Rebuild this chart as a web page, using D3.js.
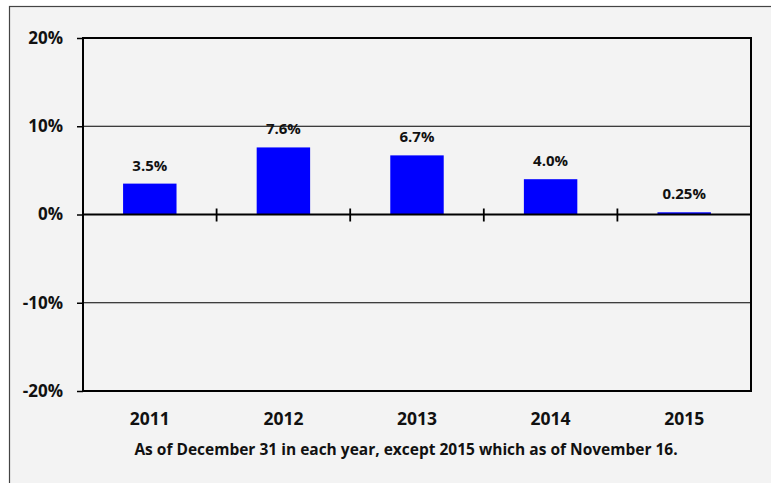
<!DOCTYPE html>
<html>
<head>
<meta charset="utf-8">
<script src="https://cdn.jsdelivr.net/npm/d3@7"></script>
<style>
  html, body { margin: 0; padding: 0; background: #ffffff; }
  svg { display: block; }
  text { font-family: "Open Sans", Lato, sans-serif; font-weight: bold; fill: #111; }
</style>
</head>
<body>
<svg id="chart" width="771" height="483"></svg>
<script>
// Annual returns by year (percent)
const years = ["2011", "2012", "2013", "2014", "2015"];
const returns = [3.5, 7.6, 6.7, 4.0, 0.25];
const valueLabels = ["3.5%", "7.6%", "6.7%", "4.0%", "0.25%"];
const yTicks = [-20, -10, 0, 10, 20];
const caption = "As of December 31 in each year, except 2015 which as of November 16.";

const svg = d3.select("#chart");
const W = 771, H = 483;
const m = { left: 83, right: 20, top: 38, bottom: 92 };
const plotW = W - m.left - m.right;   // 668
const plotH = H - m.top - m.bottom;   // 353
const FONT = "'Open Sans', Lato, sans-serif";

// chart area background with top/left frame
svg.append("rect").attr("x", 9.5).attr("y", 6.5).attr("width", W).attr("height", H)
  .attr("fill", "#f3f3f3").attr("stroke", "#444").attr("stroke-width", 1.2);

const x = d3.scaleBand().domain(years).range([m.left, m.left + plotW]).paddingInner(0.6).paddingOuter(0.3);
const y = d3.scaleLinear().domain([-20, 20]).range([m.top + plotH, m.top]);

const g = svg.append("g");

// horizontal gridlines at ±10%
g.selectAll("line.grid").data(yTicks.filter(t => t === 10 || t === -10)).join("line")
  .attr("class", "grid")
  .attr("x1", m.left).attr("x2", m.left + plotW)
  .attr("y1", d => y(d)).attr("y2", d => y(d))
  .attr("stroke", "#000").attr("stroke-width", 1);

// bars
g.selectAll("rect.bar").data(returns).join("rect")
  .attr("class", "bar")
  .attr("x", (d, i) => x(years[i]))
  .attr("width", x.bandwidth())
  .attr("y", d => y(Math.max(0, d)))
  .attr("height", d => Math.abs(y(d) - y(0)))
  .attr("fill", "#0000ff");

// value labels above bars
g.selectAll("text.val").data(returns).join("text")
  .attr("class", "val")
  .attr("x", (d, i) => x(years[i]) + x.bandwidth() / 2)
  .attr("y", d => y(d) - 13)
  .attr("text-anchor", "middle")
  .attr("font-size", 15)
  .text((d, i) => valueLabels[i]);

// zero line with category separators
g.append("line")
  .attr("x1", m.left).attr("x2", m.left + plotW)
  .attr("y1", y(0)).attr("y2", y(0))
  .attr("stroke", "#000").attr("stroke-width", 2.2);
const bounds = d3.range(1, years.length).map(i => m.left + i * plotW / years.length);
g.selectAll("line.sep").data(bounds).join("line")
  .attr("class", "sep")
  .attr("x1", d => d).attr("x2", d => d)
  .attr("y1", y(0) - 6).attr("y2", y(0) + 7)
  .attr("stroke", "#000").attr("stroke-width", 1.8);

// plot frame
g.append("rect")
  .attr("x", m.left).attr("y", m.top).attr("width", plotW).attr("height", plotH)
  .attr("fill", "none").attr("stroke", "#000").attr("stroke-width", 2);

// y axis
const yAxis = d3.axisLeft(y).tickValues(yTicks).tickSize(6).tickPadding(14)
  .tickFormat(d => d + "%");
const ya = svg.append("g").attr("transform", `translate(${m.left},0)`).call(yAxis);
ya.select(".domain").remove();
ya.selectAll(".tick line").attr("stroke", "#000").attr("stroke-width", 1.5);
ya.selectAll(".tick text").attr("font-size", 17).attr("font-family", FONT)
  .attr("font-weight", "bold").attr("fill", "#111");

// x axis labels
const xa = svg.append("g").attr("transform", `translate(0,${m.top + plotH})`)
  .call(d3.axisBottom(x).tickSize(0).tickPadding(22));
xa.select(".domain").remove();
xa.selectAll(".tick text").attr("font-size", 17.5).attr("font-family", FONT)
  .attr("font-weight", "bold").attr("fill", "#111");

// footnote
svg.append("text")
  .attr("x", 406).attr("y", 455)
  .attr("text-anchor", "middle")
  .attr("font-size", 15.5)
  .text(caption);
</script>
</body>
</html>
